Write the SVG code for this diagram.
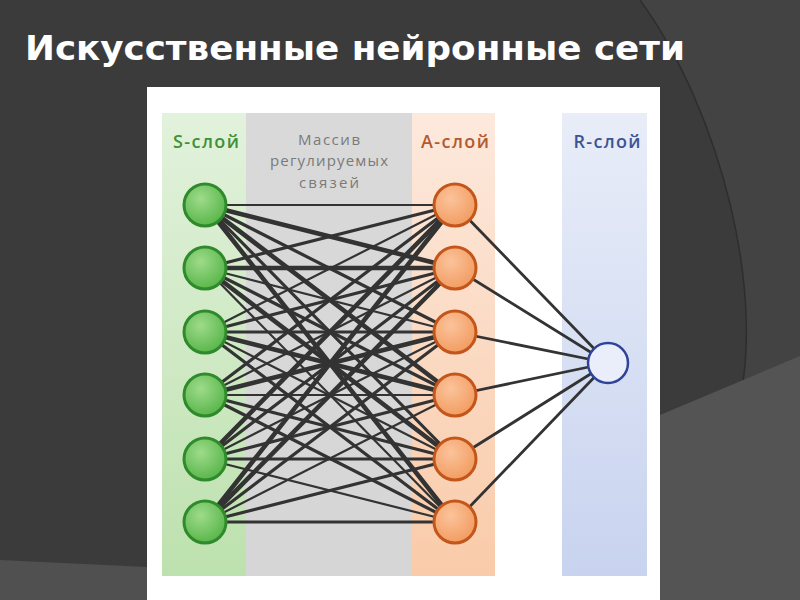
<svg xmlns="http://www.w3.org/2000/svg" width="800" height="600" viewBox="0 0 800 600">
<defs>
<linearGradient id="gS" x1="0" y1="0" x2="0" y2="1"><stop offset="0" stop-color="#e2f2dc"/><stop offset="1" stop-color="#bde1ae"/></linearGradient>
<linearGradient id="gM" x1="0" y1="0" x2="0" y2="1"><stop offset="0" stop-color="#d9d9d9"/><stop offset="1" stop-color="#d6d6d6"/></linearGradient>
<linearGradient id="gA" x1="0" y1="0" x2="0" y2="1"><stop offset="0" stop-color="#fde9dd"/><stop offset="1" stop-color="#f9cba9"/></linearGradient>
<linearGradient id="gR" x1="0" y1="0" x2="0" y2="1"><stop offset="0" stop-color="#e8edf8"/><stop offset="1" stop-color="#c8d3ef"/></linearGradient>
<radialGradient id="nS" cx="0.4" cy="0.35" r="0.7"><stop offset="0" stop-color="#9edb8a"/><stop offset="1" stop-color="#55b447"/></radialGradient>
<radialGradient id="nA" cx="0.4" cy="0.35" r="0.7"><stop offset="0" stop-color="#fbc39b"/><stop offset="1" stop-color="#f29a5e"/></radialGradient>
<style>
.lbl{font-family:"Open Sans","Noto Sans","DejaVu Sans",sans-serif;font-weight:600;font-size:18px;text-anchor:middle}
.mid{font-family:"Open Sans","Noto Sans","DejaVu Sans",sans-serif;font-size:15px;fill:#7a7a7a;text-anchor:middle}
.c line{stroke:#333333;stroke-linecap:round}
.w1{stroke-width:2.2}.w2{stroke-width:3.2}.w3{stroke-width:4.6}.wr{stroke-width:2.8}
.s{fill:url(#nS);stroke:#2f8a2c;stroke-width:3}
.a{fill:url(#nA);stroke:#c2561b;stroke-width:3}
.r{fill:#e9eefa;stroke:#2f4497;stroke-width:2.5}
</style>
</defs>
<rect x="0" y="0" width="800" height="600" fill="#3b3b3b"/>
<path d="M640 0 C 720 110, 770 300, 735 420 C 715 490, 690 550, 662 600 L 800 600 L 800 0 Z" fill="#434343"/>
<path d="M640 0 C 720 110, 770 300, 735 420 C 715 490, 690 550, 662 600" fill="none" stroke="#2e2e2e" stroke-width="1.5"/>
<path d="M660 415 L 800 356 L 800 600 L 660 600 Z" fill="#545454"/>
<path d="M0 560 L 147 567 L 147 600 L 0 600 Z" fill="#505050"/>
<text x="25" y="60" font-family="'DejaVu Sans Condensed','DejaVu Sans','Liberation Sans',sans-serif" font-weight="bold" font-stretch="condensed" font-size="34" fill="#ffffff" textLength="660" lengthAdjust="spacingAndGlyphs">Искусственные нейронные сети</text>
<rect x="147" y="87" width="513" height="513" fill="#ffffff"/>
<rect x="162" y="113" width="84" height="463" fill="url(#gS)"/>
<rect x="246" y="113" width="166" height="463" fill="url(#gM)"/>
<rect x="412" y="113" width="83" height="463" fill="url(#gA)"/>
<rect x="562" y="113" width="85" height="463" fill="url(#gR)"/>
<text class="lbl" x="206" y="148" fill="#3f8f3c" textLength="66">S-слой</text>
<text class="lbl" x="455" y="148" fill="#b25a30" textLength="68">A-слой</text>
<text class="lbl" x="607" y="148" fill="#3b5592" textLength="67">R-слой</text>
<text class="mid" x="329" y="145" textLength="62">Массив</text>
<text class="mid" x="329" y="166" textLength="118">регулируемых</text>
<text class="mid" x="329" y="188" textLength="60">связей</text>
<g id="connectors" class="c">
<line class="w1" x1="205" y1="205" x2="455" y2="205"/>
<line class="w3" x1="205" y1="205" x2="455" y2="268"/>
<line class="w2" x1="205" y1="205" x2="455" y2="332"/>
<line class="w3" x1="205" y1="205" x2="455" y2="395"/>
<line class="w2" x1="205" y1="205" x2="455" y2="459"/>
<line class="w3" x1="205" y1="205" x2="455" y2="522"/>
<line class="w2" x1="205" y1="268" x2="455" y2="205"/>
<line class="w3" x1="205" y1="268" x2="455" y2="268"/>
<line class="w1" x1="205" y1="268" x2="455" y2="332"/>
<line class="w2" x1="205" y1="268" x2="455" y2="395"/>
<line class="w3" x1="205" y1="268" x2="455" y2="459"/>
<line class="w1" x1="205" y1="268" x2="455" y2="522"/>
<line class="w1" x1="205" y1="332" x2="455" y2="205"/>
<line class="w2" x1="205" y1="332" x2="455" y2="268"/>
<line class="w2" x1="205" y1="332" x2="455" y2="332"/>
<line class="w3" x1="205" y1="332" x2="455" y2="395"/>
<line class="w1" x1="205" y1="332" x2="455" y2="459"/>
<line class="w2" x1="205" y1="332" x2="455" y2="522"/>
<line class="w2" x1="205" y1="395" x2="455" y2="205"/>
<line class="w1" x1="205" y1="395" x2="455" y2="268"/>
<line class="w3" x1="205" y1="395" x2="455" y2="332"/>
<line class="w1" x1="205" y1="395" x2="455" y2="395"/>
<line class="w2" x1="205" y1="395" x2="455" y2="459"/>
<line class="w2" x1="205" y1="395" x2="455" y2="522"/>
<line class="w3" x1="205" y1="459" x2="455" y2="205"/>
<line class="w2" x1="205" y1="459" x2="455" y2="268"/>
<line class="w1" x1="205" y1="459" x2="455" y2="332"/>
<line class="w2" x1="205" y1="459" x2="455" y2="395"/>
<line class="w2" x1="205" y1="459" x2="455" y2="459"/>
<line class="w1" x1="205" y1="459" x2="455" y2="522"/>
<line class="w3" x1="205" y1="522" x2="455" y2="205"/>
<line class="w3" x1="205" y1="522" x2="455" y2="268"/>
<line class="w2" x1="205" y1="522" x2="455" y2="332"/>
<line class="w1" x1="205" y1="522" x2="455" y2="395"/>
<line class="w2" x1="205" y1="522" x2="455" y2="459"/>
<line class="w2" x1="205" y1="522" x2="455" y2="522"/>
<line class="wr" x1="455" y1="205" x2="608" y2="363"/>
<line class="wr" x1="455" y1="268" x2="608" y2="363"/>
<line class="wr" x1="455" y1="332" x2="608" y2="363"/>
<line class="wr" x1="455" y1="395" x2="608" y2="363"/>
<line class="wr" x1="455" y1="459" x2="608" y2="363"/>
<line class="wr" x1="455" y1="522" x2="608" y2="363"/>
</g>
<g id="s1"><circle class="s" cx="205" cy="205" r="21"/></g>
<g id="s2"><circle class="s" cx="205" cy="268" r="21"/></g>
<g id="s3"><circle class="s" cx="205" cy="332" r="21"/></g>
<g id="s4"><circle class="s" cx="205" cy="395" r="21"/></g>
<g id="s5"><circle class="s" cx="205" cy="459" r="21"/></g>
<g id="s6"><circle class="s" cx="205" cy="522" r="21"/></g>
<g id="a1"><circle class="a" cx="455" cy="205" r="21"/></g>
<g id="a2"><circle class="a" cx="455" cy="268" r="21"/></g>
<g id="a3"><circle class="a" cx="455" cy="332" r="21"/></g>
<g id="a4"><circle class="a" cx="455" cy="395" r="21"/></g>
<g id="a5"><circle class="a" cx="455" cy="459" r="21"/></g>
<g id="a6"><circle class="a" cx="455" cy="522" r="21"/></g>
<g id="r1"><circle class="r" cx="608" cy="363" r="20"/></g>
</svg>
